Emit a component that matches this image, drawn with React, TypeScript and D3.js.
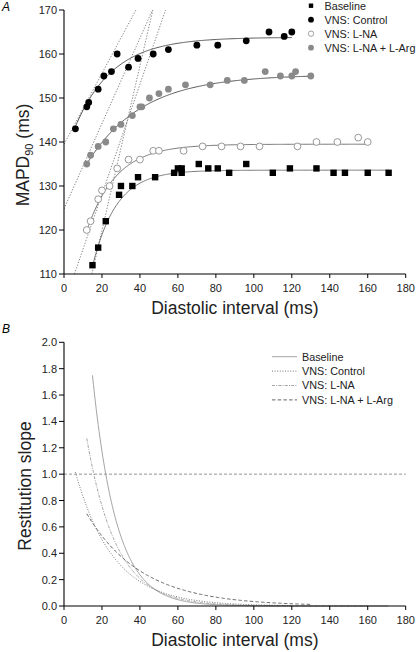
import React from "react";
import * as d3 from "d3";

// ---------- Data ----------
const baselineDI = [15, 18, 22, 29, 30, 36, 39, 48, 58, 60, 62, 62, 71, 76, 81, 87, 96, 110, 119, 133, 142, 148, 160, 171];
const baselineAPD = [112, 116, 122, 128, 130, 130, 132, 132, 133, 134, 134, 133, 135, 134, 134, 133, 135, 133, 134, 134, 133, 133, 133, 133];

const controlDI = [6, 12, 13, 18, 21, 25, 28, 34, 39, 47, 55, 70, 81, 96, 108, 116, 120];
const controlAPD = [143, 148, 149, 152, 155, 156, 160, 157, 159, 160, 161, 162, 162, 163, 165, 164, 165];

const lnaDI = [12, 14, 18, 20, 24, 28, 34, 40, 47, 50, 63, 73, 83, 93, 103, 123, 133, 144, 155, 160];
const lnaAPD = [120, 122, 127, 129, 130, 134, 136, 136, 138, 138, 138, 139, 139, 139, 139, 139, 140, 140, 141, 140];

const argDI = [12, 14, 18, 22, 26, 30, 36, 40, 41, 45, 50, 55, 64, 77, 86, 95, 106, 114, 120, 122, 130];
const argAPD = [135, 137, 139, 140, 143, 144, 146, 148, 148, 150, 151, 152, 153, 153, 154, 154, 156, 155, 155, 156, 155];

// Mono-exponential restitution fits: APD = plateau - amplitude * exp(-DI / tau)
const seriesNames = ["Baseline", "VNS: Control", "VNS: L-NA", "VNS: L-NA + L-Arg"];
const fitPlateau = [133.6, 163.8, 139.5, 155.3];
const fitAmplitude = [72.6, 27.4, 42.7, 30.7];
const fitTau = [12.5, 20, 15.5, 29];
const fitStart = [15, 6, 12, 12];
const fitEnd = [171, 120, 160, 130];

// Dotted steep lines in panel A (start DI, start APD, slope)
const lineX0 = [14.7, 0, 5.5, 0];
const lineY0 = [110, 139.5, 110, 124.8];
const lineSlope = [1.87, 0.805, 1.25, 0.97];

const xTicks = [0, 20, 40, 60, 80, 100, 120, 140, 160, 180];
const yTicksA = [110, 120, 130, 140, 150, 160, 170];
const yTicksB = [0, 0.2, 0.4, 0.6, 0.8, 1.0, 1.2, 1.4, 1.6, 1.8, 2.0];

// ---------- Styles ----------
const FONT = "'Liberation Sans', Arial, Helvetica, sans-serif";
const slopeDash = ["none", "1,1.6", "3,1.2,1,1.2", "3.5,2.2"];
const slopeColor = ["#9a9a9a", "#666", "#999", "#555"];

const W = 416;
const H = 652;

function sampleFit(i: number, step: number) {
  const xs = d3.range(fitStart[i], fitEnd[i] + 0.001, step);
  if (xs[xs.length - 1] < fitEnd[i]) xs.push(fitEnd[i]);
  return xs;
}

export default function App() {
  const xA = d3.scaleLinear().domain([0, 180]).range([64, 405.7]);
  const yA = d3.scaleLinear().domain([110, 170]).range([274, 10]);
  const xB = d3.scaleLinear().domain([0, 180]).range([64, 405.7]);
  const yB = d3.scaleLinear().domain([0, 2]).range([606, 342.3]);

  const fitLine = (i: number) =>
    d3
      .line<number>()
      .x((d) => xA(d))
      .y((d) => yA(fitPlateau[i] - fitAmplitude[i] * Math.exp(-d / fitTau[i])))(sampleFit(i, 0.5)) || "";

  const slopeLine = (i: number) =>
    d3
      .line<number>()
      .x((d) => xB(d))
      .y((d) => yB((fitAmplitude[i] / fitTau[i]) * Math.exp(-d / fitTau[i])))(sampleFit(i, 0.5)) || "";

  const tangentPath = (i: number) => {
    const x1 = lineX0[i] + (170 - lineY0[i]) / lineSlope[i];
    return d3
      .line<number>()
      .x((d) => xA(d))
      .y((d) => yA(lineY0[i] + lineSlope[i] * (d - lineX0[i])))([lineX0[i], x1]) || "";
  };

  const sq = 6.4;
  const r = 3.4;

  return (
    <svg
      width={W}
      height={H}
      style={{ position: "absolute", left: 0, top: 0, background: "#fff" }}
      fontFamily={FONT}
    >
      <defs>
        <clipPath id="clipA">
          <rect x={xA(0)} y={yA(170)} width={xA(180) - xA(0)} height={yA(110) - yA(170)} />
        </clipPath>
      </defs>

      {/* ================= Panel A ================= */}
      <text x={2} y={11} fontSize={12} fontStyle="italic">A</text>

      {/* dotted steep lines */}
      <g clipPath="url(#clipA)">
        {lineX0.map((_, i) => (
          <path key={i} d={tangentPath(i)} fill="none" stroke="#666" strokeWidth={0.8} strokeDasharray="1.3,1.6" />
        ))}
      </g>

      {/* fit curves */}
      {fitPlateau.map((_, i) => (
        <path key={i} d={fitLine(i)} fill="none" stroke={i === 0 || i === 2 ? "#666" : "#444"} strokeWidth={0.9} />
      ))}

      {/* points */}
      {lnaDI.map((d, i) => (
        <circle key={"l" + i} cx={xA(d)} cy={yA(lnaAPD[i])} r={r} fill="#fff" stroke="#8c8c8c" strokeWidth={0.9} />
      ))}
      {argDI.map((d, i) => (
        <circle key={"g" + i} cx={xA(d)} cy={yA(argAPD[i])} r={r} fill="#8a8a8a" />
      ))}
      {controlDI.map((d, i) => (
        <circle key={"c" + i} cx={xA(d)} cy={yA(controlAPD[i])} r={r} fill="#000" />
      ))}
      {baselineDI.map((d, i) => (
        <rect key={"b" + i} x={xA(d) - sq / 2} y={yA(baselineAPD[i]) - sq / 2} width={sq} height={sq} fill="#000" />
      ))}

      {/* axes A */}
      <line x1={xA(0)} x2={xA(180)} y1={yA(110)} y2={yA(110)} stroke="#000" strokeWidth={1.1} />
      <line x1={xA(0)} x2={xA(0)} y1={yA(110)} y2={yA(170)} stroke="#000" strokeWidth={1.1} />
      {xTicks.map((t) => (
        <g key={"xa" + t}>
          <line x1={xA(t)} x2={xA(t)} y1={yA(110)} y2={yA(110) + 4} stroke="#000" strokeWidth={1} />
          <text x={xA(t)} y={yA(110) + 18} fontSize={11} textAnchor="middle" fill="#222">{t}</text>
        </g>
      ))}
      {yTicksA.map((t) => (
        <g key={"ya" + t}>
          <line x1={xA(0) - 5} x2={xA(0)} y1={yA(t)} y2={yA(t)} stroke="#000" strokeWidth={1} />
          <text x={xA(0) - 7} y={yA(t) + 4} fontSize={11} textAnchor="end" fill="#222">{t}</text>
        </g>
      ))}
      <text x={(xA(0) + xA(180)) / 2} y={314} fontSize={17.5} textAnchor="middle" fill="#222">
        Diastolic interval (ms)
      </text>
      <text transform={`translate(28.5,155) rotate(-90)`} fontSize={17.5} textAnchor="middle" fill="#222">
        MAPD<tspan fontSize={11} dy={4}>90</tspan>
        <tspan dy={-4}> (ms)</tspan>
      </text>

      {/* legend A */}
      {seriesNames.map((name, i) => {
        const cy = 5.7 + i * 14;
        return (
          <g key={"la" + i}>
            {i === 0 && <rect x={311 - 2.2} y={cy - 2.2} width={4.4} height={4.4} fill="#000" />}
            {i === 1 && <circle cx={311} cy={cy} r={2.9} fill="#000" />}
            {i === 2 && <circle cx={311} cy={cy} r={2.7} fill="#fff" stroke="#8c8c8c" strokeWidth={0.8} />}
            {i === 3 && <circle cx={311} cy={cy} r={2.9} fill="#8a8a8a" />}
            <text x={324.5} y={cy + 3.8} fontSize={10.8} fill="#222">{name}</text>
          </g>
        );
      })}

      {/* ================= Panel B ================= */}
      <text x={2} y={333} fontSize={12} fontStyle="italic">B</text>

      <line x1={xB(0)} x2={xB(180)} y1={yB(1)} y2={yB(1)} stroke="#777" strokeWidth={0.8} strokeDasharray="3,2" />

      {fitPlateau.map((_, i) => (
        <path key={"s" + i} d={slopeLine(i)} fill="none" stroke={slopeColor[i]} strokeWidth={0.9} strokeDasharray={slopeDash[i]} />
      ))}

      {/* axes B */}
      <line x1={xB(0)} x2={xB(180)} y1={yB(0)} y2={yB(0)} stroke="#000" strokeWidth={1.1} />
      <line x1={xB(0)} x2={xB(0)} y1={yB(0)} y2={yB(2)} stroke="#000" strokeWidth={1.1} />
      {xTicks.map((t) => (
        <g key={"xb" + t}>
          <line x1={xB(t)} x2={xB(t)} y1={yB(0)} y2={yB(0) + 4} stroke="#000" strokeWidth={1} />
          <text x={xB(t)} y={yB(0) + 18} fontSize={11} textAnchor="middle" fill="#222">{t}</text>
        </g>
      ))}
      {yTicksB.map((t) => (
        <g key={"yb" + t}>
          <line x1={xB(0) - 5} x2={xB(0)} y1={yB(t)} y2={yB(t)} stroke="#000" strokeWidth={1} />
          <text x={xB(0) - 7} y={yB(t) + 4} fontSize={11} textAnchor="end" fill="#222">{d3.format(".1f")(t)}</text>
        </g>
      ))}
      <text x={(xB(0) + xB(180)) / 2} y={646} fontSize={17.5} textAnchor="middle" fill="#222">
        Diastolic interval (ms)
      </text>
      <text transform={`translate(31,486) rotate(-90)`} fontSize={17.5} textAnchor="middle" fill="#222">
        Restitution slope
      </text>

      {/* legend B */}
      {seriesNames.map((name, i) => {
        const cy = 356.7 + i * 14.4;
        return (
          <g key={"lb" + i}>
            <line x1={272} x2={297} y1={cy} y2={cy} stroke={slopeColor[i]} strokeWidth={0.9} strokeDasharray={slopeDash[i]} />
            <text x={302} y={cy + 3.8} fontSize={10.8} fill="#222">{name}</text>
          </g>
        );
      })}
    </svg>
  );
}
